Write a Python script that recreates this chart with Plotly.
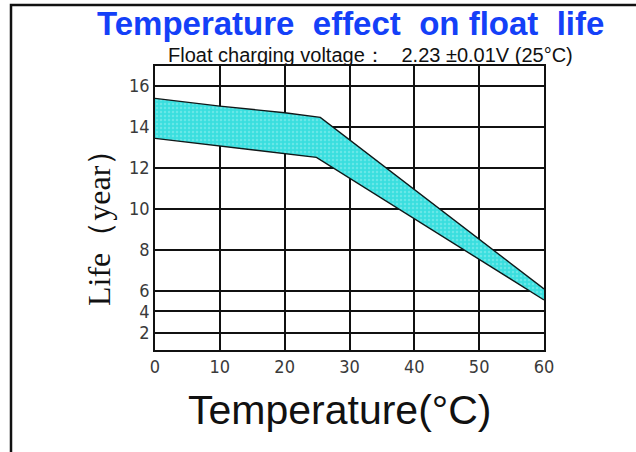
import plotly.graph_objects as go

# ---- data ----
temp_upper = [0, 10, 20, 25.5, 60]
life_upper = [15.4, 15.02, 14.7, 14.47, 6.1]
temp_lower = [0, 10, 20, 24.9, 60]
life_lower = [13.45, 13.07, 12.72, 12.52, 5.56]

x_ticks = [0, 10, 20, 30, 40, 50, 60]
x_tick_labels = ["0", "10", "20", "30", "40", "50", "60"]
# the original chart compresses the lowest part of its y scale
y_tick_pos = [3.95, 5.0, 6, 8, 10, 12, 14, 16]
y_tick_labels = ["2", "4", "6", "8", "10", "12", "14", "16"]

title_text = "Temperature  effect  on float  life"
subtitle_text = "Float charging voltage：   2.23 ±0.01V (25°C)"
x_title = "Temperature(°C)"
y_title = "Life（year）"

fig = go.Figure()
fig.add_trace(go.Scatter(x=temp_lower, y=life_lower, mode="lines",
                         line=dict(color="#101818", width=1.4),
                         showlegend=False, hoverinfo="skip"))
fig.add_trace(go.Scatter(x=temp_upper, y=life_upper, mode="lines",
                         line=dict(color="#101818", width=1.4),
                         fill="tonexty", fillcolor="#3CE0E0",
                         fillpattern=dict(shape=".", bgcolor="#3ADEDE",
                                          fgcolor="#96F0F0", size=4, solidity=0.3),
                         showlegend=False, hoverinfo="skip"))

W, H = 636, 452
L, R, T, B = 155, 92, 66, 102
pw, ph = W - L - R, H - T - B


def px(xp):
    return (xp - L) / pw


def py(yp):
    return (H - B - yp) / ph


tick_font = dict(family="DejaVu Sans Condensed, Liberation Sans Narrow, Liberation Sans",
                 size=18, color="#3a3a3a")

fig.update_layout(
    width=W, height=H,
    margin=dict(l=L, r=R, t=T, b=B, pad=0),
    paper_bgcolor="white", plot_bgcolor="white",
    showlegend=False,
    xaxis=dict(range=[0, 60], tickvals=x_ticks, ticktext=x_tick_labels,
               showgrid=True, gridcolor="#111111", gridwidth=1.5,
               showline=True, mirror=True, linecolor="#111111", linewidth=1.5,
               zeroline=False, ticks="", tickfont=tick_font),
    yaxis=dict(range=[3.12, 16.98], tickvals=y_tick_pos, ticktext=y_tick_labels,
               showgrid=True, gridcolor="#111111", gridwidth=1.5,
               showline=True, mirror=True, linecolor="#111111", linewidth=1.5,
               zeroline=False, ticks="", tickfont=tick_font),
    annotations=[
        dict(text=f"<b>{title_text}</b>", x=px(350), y=py(23), xref="paper", yref="paper",
             showarrow=False, xanchor="center", yanchor="middle",
             font=dict(family="Liberation Sans", size=33, color="#1440F8")),
        dict(text=subtitle_text, x=px(370), y=py(55), xref="paper", yref="paper",
             showarrow=False, xanchor="center", yanchor="middle",
             font=dict(family="Liberation Sans", size=20, color="#111111")),
        dict(text=x_title, x=px(339), y=py(410), xref="paper", yref="paper",
             showarrow=False, xanchor="center", yanchor="middle",
             font=dict(family="Liberation Sans", size=41, color="#111111")),
        dict(text=y_title, x=px(99), y=py(220), xref="paper", yref="paper",
             showarrow=False, xanchor="center", yanchor="middle", textangle=-90,
             font=dict(family="Liberation Serif", size=32, color="#111111")),
    ],
    shapes=[
        dict(type="rect", xref="paper", yref="paper", x0=px(11), x1=px(700),
             y0=py(470), y1=py(5), line=dict(color="#111111", width=2.5),
             fillcolor="rgba(0,0,0,0)", layer="above"),
    ],
)

fig.write_html("out.html", config={"displayModeBar": False},
               post_script="document.body.style.margin='0px';document.body.style.overflow='hidden';")
